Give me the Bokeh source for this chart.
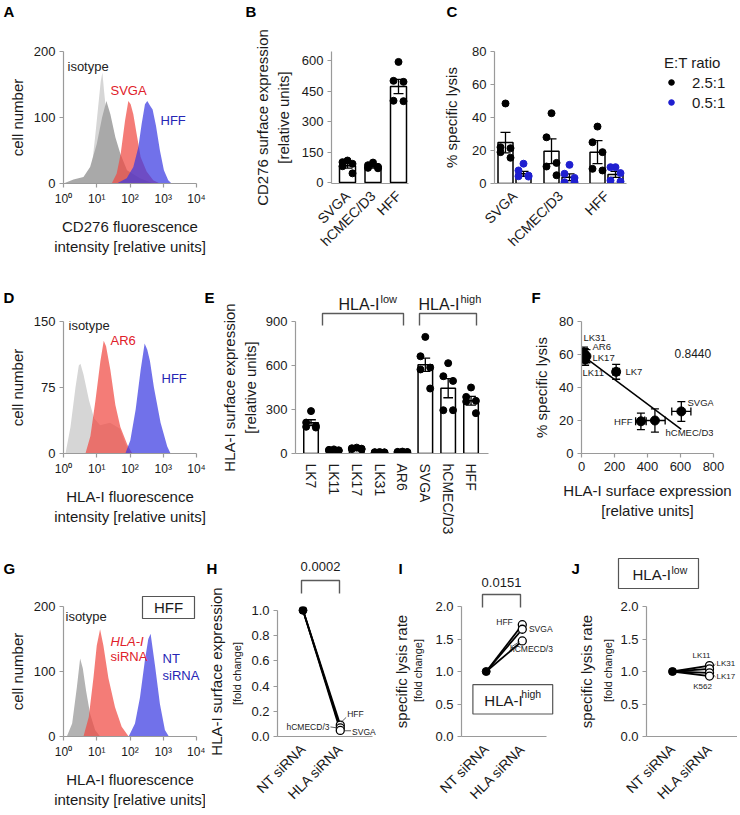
import numpy as np
from bokeh.plotting import figure
from bokeh.layouts import row, column
from bokeh.models import (Range1d, FixedTicker, Label, GridBox,
                          PrintfTickFormatter, Legend, LegendItem)
from bokeh.core.properties import value
from bokeh.embed import file_html
from bokeh.resources import INLINE

FONT = "Liberation Sans"
INK = "#1a1a1a"
AXIS = "#9a9a9a"
GREY_LIGHT = "#d6d6d6"
GREY_DARK = "#a9a9a9"
RED = "#f04a42"
BLUE = "#3a3ae2"
RED_TXT = "#e0202a"
BLUE_TXT = "#2626b5"
DOT_BLUE = "#1f1fd0"
BRACKET = "#5a5a5a"

# ---------------- data ----------------
LOG_TICKS = [0, 1, 2, 3, 4]
LOG_LABELS = ["10\u2070", "10\u00b9", "10\u00b2", "10\u00b3", "10\u2074"]

# A: CD276 flow histograms (log10 intensity, cell number)
A_iso1_log = [0.72, 0.85, 0.95, 1.05, 1.12, 1.17, 1.22, 1.30, 1.42, 1.55, 1.70]
A_iso1_cnt = [0, 25, 70, 120, 155, 168, 140, 100, 55, 20, 0]
A_iso2_log = [0.0, 0.3, 0.6, 0.8, 1.0, 1.16, 1.29, 1.41, 1.56, 1.71, 1.91, 2.3, 2.7]
A_iso2_cnt = [0, 6, 10, 25, 60, 100, 125, 105, 70, 45, 20, 8, 0]
A_svga_log = [1.45, 1.6, 1.72, 1.85, 1.95, 2.02, 2.1, 2.2, 2.32, 2.5, 2.7, 2.9]
A_svga_cnt = [0, 15, 45, 95, 125, 120, 105, 75, 40, 18, 5, 0]
A_hff_log = [1.6, 1.9, 2.1, 2.25, 2.35, 2.45, 2.52, 2.6, 2.68, 2.78, 2.9, 3.02, 3.15, 3.25]
A_hff_cnt = [0, 8, 25, 55, 90, 120, 125, 118, 112, 88, 50, 20, 5, 0]

# B: CD276 surface expression
B_cats = ["SVGA", "hCMEC/D3", "HFF"]
B_mean = [82, 77, 472]
B_sem = [11, 6, 35]
B_pts = [[108, 100, 92, 80, 45], [98, 85, 77, 72, 70], [593, 500, 495, 402, 400]]

# C: % specific lysis at two E:T ratios
C_cats = ["SVGA", "hCMEC/D3", "HFF"]
C_hi_mean = [24.8, 19.6, 19.0]
C_hi_sem = [6.2, 7.5, 7.0]
C_hi_pts = [[48.5, 22, 21.4, 19, 15.6], [42.6, 28, 12.5, 10.3, 5], [34.5, 25, 19, 8.9, 7.9]]
C_lo_mean = [5.9, 3.8, 5.5]
C_lo_sem = [1.5, 2.0, 1.8]
C_lo_pts = [[12, 7.9, 4.8, 4.4, 4.2], [11.3, 5.9, 3.4, 0.8, 0.8], [9.9, 9.9, 6.3, 1.8, 1.2]]

# D: HLA-I flow histograms
D_iso_log = [0.06, 0.21, 0.36, 0.46, 0.51, 0.6, 0.77, 0.92, 1.1, 1.4, 1.7, 1.85, 2.0]
D_iso_cnt = [0, 30, 75, 100, 102, 90, 60, 40, 32, 35, 28, 12, 0]
D_ar6_log = [0.66, 0.81, 0.96, 1.11, 1.21, 1.28, 1.41, 1.56, 1.71, 1.92, 2.07]
D_ar6_cnt = [0, 20, 60, 105, 128, 122, 95, 55, 30, 10, 0]
D_hff_log = [1.86, 2.01, 2.17, 2.32, 2.44, 2.52, 2.6, 2.72, 2.92, 3.12, 3.22]
D_hff_cnt = [0, 15, 50, 95, 125, 118, 105, 75, 35, 8, 0]

# E: HLA-I surface expression
E_cats = ["LK7", "LK11", "LK17", "LK31", "AR6", "SVGA", "hCMEC/D3", "HFF"]
E_mean = [210, 22, 33, 8, 10, 605, 445, 360]
E_sem = [20, 2, 2, 1, 1, 45, 65, 30]
E_pts = [[289, 211, 189, 182, 177], [28, 25, 22, 20, 18], [40, 36, 33, 30, 28],
         [10, 9, 8, 7, 6], [13, 11, 10, 9, 8], [795, 663, 586, 573, 443],
         [616, 527, 495, 295, 295], [450, 386, 359, 354, 275]]

# F: lysis vs HLA-I expression
F_lines = ["LK31", "AR6", "LK17", "LK11", "LK7", "SVGA", "hCMEC/D3", "HFF"]
F_x = [15, 20, 30, 22, 210, 605, 445, 360]
F_y = [60.5, 60, 59, 57, 49.5, 25.5, 20, 19.5]
F_xerr = [2, 2, 3, 2, 20, 58, 62, 32]
F_yerr = [4, 3.5, 4, 3.5, 4.5, 6, 7, 5]
F_r2_text = "0.8440"

# G: HFF HLA-I knockdown histograms
G_iso_log = [0.1, 0.26, 0.4, 0.5, 0.58, 0.68, 0.8, 0.95, 1.1]
G_iso_cnt = [0, 20, 75, 120, 105, 70, 35, 10, 0]
G_hla_log = [0.6, 0.76, 0.9, 1.0, 1.1, 1.2, 1.35, 1.55, 1.75, 1.96]
G_hla_cnt = [0, 30, 90, 140, 165, 140, 90, 45, 15, 0]
G_nt_log = [1.96, 2.15, 2.3, 2.45, 2.55, 2.62, 2.75, 2.9, 3.05, 3.17]
G_nt_cnt = [0, 20, 60, 118, 150, 158, 110, 50, 10, 0]

# H, I, J: NT siRNA vs HLA siRNA (fold change)
SI_cats = ["NT siRNA", "HLA siRNA"]
H_lines = ["HFF", "hCMECD/3", "SVGA"]
H_hla = [0.09, 0.068, 0.048]
H_p = "0.0002"
I_lines = ["HFF", "SVGA", "hCMECD/3"]
I_hla = [1.72, 1.65, 1.47]
I_p = "0.0151"
J_lines = ["LK11", "LK31", "LK17", "K562"]
J_hla = [1.09, 1.04, 0.98, 0.93]

PANEL_LETTERS = ["A", "B", "C", "D", "E", "F", "G", "H", "I", "J"]

JIT_PX = [0, -5, 5, -5, 5]
PAGE_W, PAGE_H = 737, 810


# ---------------- helpers ----------------
class Panel:
    pass


def lin(pa, va, pb, vb):
    k = (vb - va) / (pb - pa)
    return (lambda px: va + (px - pa) * k), abs(k)


def make_panel(canvas, frame, xcal, ycal):
    cx0, cy0, cx1, cy1 = canvas
    fx0, fy0, fx1, fy1 = frame
    P = Panel()
    P.X, P.sx = lin(*xcal)
    P.Y, P.sy = lin(*ycal)
    p = figure(width=cx1 - cx0, height=cy1 - cy0,
               x_range=Range1d(P.X(fx0), P.X(fx1)),
               y_range=Range1d(P.Y(fy1), P.Y(fy0)),
               min_border_left=fx0 - cx0, min_border_right=cx1 - fx1,
               min_border_top=fy0 - cy0, min_border_bottom=cy1 - fy1,
               output_backend="svg", toolbar_location=None, tools="")
    p.outline_line_color = None
    p.xgrid.visible = False
    p.ygrid.visible = False
    p.background_fill_color = "white"
    p.border_fill_color = "white"
    for ax in (p.xaxis[0], p.yaxis[0]):
        ax.axis_line_color = AXIS
        ax.axis_line_width = 1.2
        ax.major_tick_line_color = AXIS
        ax.major_tick_line_width = 1.2
        ax.major_tick_out = 4
        ax.major_tick_in = 0
        ax.minor_tick_line_color = None
        ax.major_label_text_font = FONT
        ax.major_label_text_font_size = "13px"
        ax.major_label_text_color = INK
        ax.major_label_standoff = 4
        ax.axis_label_text_font = FONT
        ax.axis_label_text_font_size = "15px"
        ax.axis_label_text_font_style = "normal"
        ax.axis_label_text_color = INK
    P.p = p
    return P


def txt(P, px, py, text, size="13px", color=INK, align="left", baseline="middle",
        style="normal", angle=0.0):
    P.p.add_layout(Label(x=P.X(px), y=P.Y(py), text=text, text_font=FONT,
                         text_font_size=size, text_color=color, text_align=align,
                         text_baseline=baseline, text_font_style=style, angle=angle))


def cat_xaxis(P, labels, orientation, size="14px"):
    ax = P.p.xaxis[0]
    ax.ticker = FixedTicker(ticks=list(range(len(labels))))
    ax.major_label_overrides = {i: s for i, s in enumerate(labels)}
    ax.major_label_orientation = orientation
    ax.major_tick_line_color = None
    ax.major_label_text_font_size = size
    ax.major_label_standoff = 6


def log_xaxis(P):
    ax = P.p.xaxis[0]
    ax.ticker = FixedTicker(ticks=LOG_TICKS)
    ax.major_label_overrides = dict(zip(LOG_TICKS, LOG_LABELS))
    ax.major_label_text_font_size = "12px"


def err_v(P, xs, ms, es, cap_px=5, lw=1.3, color="black"):
    xs = np.asarray(xs, float); ms = np.asarray(ms, float); es = np.asarray(es, float)
    c = cap_px * P.sx
    P.p.segment(x0=xs, y0=ms - es, x1=xs, y1=ms + es, line_color=color, line_width=lw)
    for yy in (ms - es, ms + es):
        P.p.segment(x0=xs - c, y0=yy, x1=xs + c, y1=yy, line_color=color, line_width=lw)


def err_h(P, xs, ms, es, cap_px=4, lw=1.3, color="black"):
    xs = np.asarray(xs, float); ms = np.asarray(ms, float); es = np.asarray(es, float)
    c = cap_px * P.sy
    P.p.segment(x0=xs - es, y0=ms, x1=xs + es, y1=ms, line_color=color, line_width=lw)
    for xx in (xs - es, xs + es):
        P.p.segment(x0=xx, y0=ms - c, x1=xx, y1=ms + c, line_color=color, line_width=lw)


def jitter_dots(P, centers, pts_groups, color, size=7):
    xs, ys = [], []
    for c, pts in zip(centers, pts_groups):
        for j, v in enumerate(sorted(pts, reverse=True)):
            xs.append(c + JIT_PX[j % len(JIT_PX)] * P.sx)
            ys.append(v)
    return P.p.scatter(x=xs, y=ys, size=size, fill_color=color, line_color=color)


def hist(P, xs, ys, color, alpha=1.0):
    P.p.varea(x=xs, y1=0, y2=ys, fill_color=color, fill_alpha=alpha)


# ---- page overlay (pixel coordinates) for annotations that sit outside the plot frames ----
OV = figure(width=PAGE_W, height=PAGE_H, x_range=Range1d(0, PAGE_W), y_range=Range1d(PAGE_H, 0),
            x_axis_type=None, y_axis_type=None, min_border=0,
            output_backend="svg", toolbar_location=None, tools="")
OV.outline_line_color = None
OV.xgrid.visible = False
OV.ygrid.visible = False
OV.background_fill_alpha = 0
OV.border_fill_alpha = 0


def ov_text(px, py, text, size="13px", color=INK, align="left", style="normal", angle=0.0):
    OV.text(x=[px], y=[py], text=[text], text_font=value(FONT), text_font_size=value(size),
            text_color=color, text_align=align, text_baseline="middle",
            text_font_style=style, angle=angle)


def ov_bracket(x0, x1, ytop, yleg):
    OV.line(x=[x0, x0, x1, x1], y=[yleg, ytop, ytop, yleg], line_color=BRACKET, line_width=1.4)


def ov_box(x0, x1, y0, y1):
    OV.quad(left=[x0], right=[x1], top=[y0], bottom=[y1], fill_color="white",
            line_color="#555555", line_width=1.2)


letter_pos = [(3, 11), (245, 11), (446, 11), (3, 297), (204, 297), (531, 297),
              (3, 568), (206, 568), (398, 568), (571, 568)]
for L, (lx, ly) in zip(PANEL_LETTERS, letter_pos):
    ov_text(lx, ly, L, size="15px", color="black", style="bold")

# ================= Row 1 =================
A = make_panel((0, 0, 236, 270), (63, 51, 196, 183), (63, 0, 196, 4), (183, 0, 51, 200))
hist(A, A_iso1_log, A_iso1_cnt, GREY_LIGHT)
hist(A, A_iso2_log, A_iso2_cnt, GREY_DARK)
hist(A, A_svga_log, A_svga_cnt, RED, 0.72)
hist(A, A_hff_log, A_hff_cnt, BLUE, 0.72)
log_xaxis(A)
A.p.yaxis[0].ticker = FixedTicker(ticks=[0, 100, 200])
A.p.yaxis[0].axis_label = "cell number"
A.p.yaxis[0].axis_label_standoff = 5
A.p.xaxis[0].axis_label = "CD276 fluorescence\nintensity [relative units]"
A.p.xaxis[0].axis_label_standoff = 9
txt(A, 67, 66, "isotype", color="#222222")
txt(A, 110, 90, "SVGA", color=RED_TXT)
txt(A, 160, 120, "HFF", color=BLUE_TXT)

B = make_panel((236, 0, 440, 270), (331, 51, 408, 183), (347, 0, 398, 2), (182, 0, 60, 600))
bx = list(range(len(B_cats)))
B.p.vbar(x=bx, top=B_mean, width=16 * B.sx, fill_color="white", line_color="black", line_width=1.5)
err_v(B, bx, B_mean, B_sem)
jitter_dots(B, bx, B_pts, "black")
cat_xaxis(B, B_cats, np.pi / 4)
B.p.yaxis[0].ticker = FixedTicker(ticks=[0, 150, 300, 450, 600])
B.p.yaxis[0].axis_label = "CD276 surface expression\n[relative units]"
B.p.yaxis[0].axis_label_standoff = 7

C = make_panel((440, 0, 732, 270), (494, 51, 732, 183), (514, 0, 606, 2), (183, 0, 51, 80))
cx = np.arange(len(C_cats), dtype=float)
off = 9 * C.sx
C.p.vbar(x=cx - off, top=C_hi_mean, width=15 * C.sx, fill_color="white", line_color="black", line_width=1.5)
C.p.vbar(x=cx + off, top=C_lo_mean, width=15 * C.sx, fill_color="white", line_color="black", line_width=1.5)
err_v(C, cx - off, C_hi_mean, C_hi_sem)
err_v(C, cx + off, C_lo_mean, C_lo_sem)
r_hi = jitter_dots(C, cx - off, C_hi_pts, "black")
r_lo = jitter_dots(C, cx + off, C_lo_pts, DOT_BLUE)
cat_xaxis(C, C_cats, np.pi / 4)
C.p.xaxis[0].bounds = (C.X(494), C.X(626))
C.p.yaxis[0].ticker = FixedTicker(ticks=[0, 20, 40, 60, 80])
C.p.yaxis[0].axis_label = "% specific lysis"
C.p.yaxis[0].axis_label_standoff = 9
leg = Legend(items=[LegendItem(label="2.5:1", renderers=[r_hi]),
                    LegendItem(label="0.5:1", renderers=[r_lo])],
             title="E:T ratio", location=(170, 72))
leg.title_text_font = FONT
leg.title_text_font_size = "15px"
leg.title_text_font_style = "normal"
leg.title_text_color = INK
leg.title_standoff = 2
leg.label_text_font = FONT
leg.label_text_font_size = "15px"
leg.label_text_color = INK
leg.border_line_color = None
leg.background_fill_alpha = 0
leg.padding = 0
leg.margin = 0
leg.spacing = 2
leg.glyph_width = 14
leg.glyph_height = 18
leg.label_height = 18
leg.label_standoff = 14
C.p.add_layout(leg)

# ================= Row 2 =================
D = make_panel((0, 270, 218, 540), (63, 321, 196, 453), (63, 0, 196, 4), (453, 0, 321, 150))
hist(D, D_iso_log, D_iso_cnt, GREY_LIGHT)
hist(D, D_ar6_log, D_ar6_cnt, RED, 0.72)
hist(D, D_hff_log, D_hff_cnt, BLUE, 0.72)
log_xaxis(D)
D.p.yaxis[0].ticker = FixedTicker(ticks=[0, 75, 150])
D.p.yaxis[0].axis_label = "cell number"
D.p.yaxis[0].axis_label_standoff = 5
D.p.xaxis[0].axis_label = "HLA-I fluorescence\nintensity [relative units]"
D.p.xaxis[0].axis_label_standoff = 9
txt(D, 68, 325, "isotype", color="#222222")
txt(D, 110, 340, "AR6", color=RED_TXT)
txt(D, 161, 378, "HFF", color=BLUE_TXT)

E = make_panel((218, 270, 500, 540), (289, 321, 488, 453), (305, 0, 470, 7), (453, 0, 321, 900))
ex = list(range(len(E_cats)))
E.p.vbar(x=ex, top=E_mean, width=15 * E.sx, fill_color="white", line_color="black", line_width=1.5)
err_v(E, ex, E_mean, E_sem)
jitter_dots(E, ex, E_pts, "black")
cat_xaxis(E, E_cats, "vertical")
E.p.yaxis[0].ticker = FixedTicker(ticks=[0, 300, 600, 900])
E.p.yaxis[0].axis_label = "HLA-I surface expression\n[relative units]"
E.p.yaxis[0].axis_label_standoff = 4
ov_bracket(322, 403, 313, 325)
ov_bracket(419, 476, 313, 325)
ov_text(338, 304, "HLA-I", size="16px")
ov_text(380, 298, "low", size="11px")
ov_text(418, 304, "HLA-I", size="16px")
ov_text(460, 298, "high", size="11px")

F = make_panel((500, 270, 732, 540), (581, 321, 713, 453), (581, 0, 713, 800), (453, 0, 321, 80))
fx = np.array(F_x, float)
fy = np.array(F_y, float)
slope, icpt = np.polyfit(fx, fy, 1)
xl = np.array([fx.min(), fx.max()])
F.p.line(x=xl, y=icpt + slope * xl, line_color="black", line_width=1.5)
err_v(F, fx, fy, F_yerr, cap_px=4)
err_h(F, fx, fy, F_xerr, cap_px=4)
F.p.scatter(x=fx, y=fy, size=9, color="black")
F.p.xaxis[0].ticker = FixedTicker(ticks=[0, 200, 400, 600, 800])
F.p.yaxis[0].ticker = FixedTicker(ticks=[0, 20, 40, 60, 80])
F.p.yaxis[0].axis_label = "% specific lysis"
F.p.yaxis[0].axis_label_standoff = 6
F.p.xaxis[0].axis_label = "HLA-I surface expression\n[relative units]"
F.p.xaxis[0].axis_label_standoff = 8
f_lab = {"LK31": (583, 337, "left"), "AR6": (592, 346, "left"), "LK17": (592, 357, "left"),
         "LK11": (582, 372, "left"), "LK7": (625, 371, "left"), "SVGA": (687, 402, "left"),
         "HFF": (632, 421, "right"), "hCMEC/D3": (665, 432, "left")}
for name in F_lines:
    px, py, al = f_lab[name]
    txt(F, px, py, name, size="9.5px", align=al)
txt(F, 674, 353, F_r2_text, size="12px")

# ================= Row 3 =================
G = make_panel((0, 540, 205, 810), (63, 606, 196, 739), (63, 0, 196, 4), (739, 0, 606, 200))
hist(G, G_iso_log, G_iso_cnt, "#b3b3b3")
hist(G, G_hla_log, G_hla_cnt, RED, 0.72)
hist(G, G_nt_log, G_nt_cnt, BLUE, 0.72)
log_xaxis(G)
G.p.yaxis[0].ticker = FixedTicker(ticks=[0, 100, 200])
G.p.yaxis[0].axis_label = "cell number"
G.p.yaxis[0].axis_label_standoff = 5
G.p.xaxis[0].axis_label = "HLA-I fluorescence\nintensity [relative units]"
G.p.xaxis[0].axis_label_standoff = 9
ov_box(142, 194, 596, 618)
ov_text(168, 607, "HFF", size="15px", align="center")
txt(G, 65, 616, "isotype", color="#222222")
txt(G, 110, 642, "HLA-I", color=RED_TXT, style="italic")
txt(G, 110, 657, "siRNA", color=RED_TXT)
ov_text(162, 658, "NT", color=BLUE_TXT)
ov_text(162, 675, "siRNA", color=BLUE_TXT)


def paired(P, hla_vals):
    for v in hla_vals:
        P.p.line(x=[0, 1], y=[1.0, v], line_color="black", line_width=1.8)
    P.p.scatter(x=[0], y=[1.0], size=8, color="black")
    P.p.scatter(x=[1] * len(hla_vals), y=hla_vals, size=8, fill_color="white",
                line_color="black", line_width=1.3)
    cat_xaxis(P, SI_cats, np.pi / 4)


def fold_axis(P, label, ticks, standoff, sub_px, sub_py):
    ax = P.p.yaxis[0]
    ax.ticker = FixedTicker(ticks=ticks)
    ax.formatter = PrintfTickFormatter(format="%.1f")
    ax.axis_label = label
    ax.axis_label_standoff = standoff
    ov_text(sub_px, sub_py, "[fold change]", size="11px", align="center", angle=np.pi / 2)


H = make_panel((205, 540, 390, 810), (275, 603, 380, 739), (301, 0, 339, 1), (739, 0, 607, 1))
paired(H, H_hla)
H.p.xaxis[0].bounds = (H.X(275), H.X(372))
H.p.yaxis[0].bounds = (0, 1)
fold_axis(H, "HLA-I surface expression", [0, 0.2, 0.4, 0.6, 0.8, 1.0], 23, 236, 673)
ov_bracket(301, 339, 580, 593)
ov_text(320, 566, H_p, align="center")
h_lab = {"HFF": (346, 715, "left"), "hCMECD/3": (328, 729, "right"), "SVGA": (351, 734, "left")}
for name in H_lines:
    px, py, al = h_lab[name]
    txt(H, px, py, name, size="8.5px", align=al)
H.p.segment(x0=[H.X(340), H.X(329), H.X(343)], y0=[H.Y(724), H.Y(729), H.Y(733)],
            x1=[H.X(345), H.X(336), H.X(350)], y1=[H.Y(719), H.Y(730), H.Y(733)],
            line_color="#333333", line_width=0.8)

I = make_panel((390, 540, 570, 810), (456, 604, 556, 737), (482, 0, 520, 1), (737, 0, 604, 2))
paired(I, I_hla)
I.p.xaxis[0].bounds = (I.X(456), I.X(545))
fold_axis(I, "specific lysis rate", [0, 0.5, 1.0, 1.5, 2.0], 22, 417, 670)
ov_bracket(482, 520, 594, 607)
ov_text(501, 582, I_p, align="center")
i_lab = {"HFF": (510, 620, "right"), "SVGA": (527, 627, "left"), "hCMECD/3": (507, 647, "left")}
for name in I_lines:
    px, py, al = i_lab[name]
    txt(I, px, py, name, size="8.5px", align=al)
I.p.segment(x0=[I.X(509)], y0=[I.Y(645)], x1=[I.X(517)], y1=[I.Y(640)],
            line_color="#333333", line_width=0.8)
I.p.quad(left=I.X(468), right=I.X(552), bottom=I.Y(714), top=I.Y(684),
         fill_color="white", line_color="#555555", line_width=1.2)
txt(I, 480, 700, "HLA-I", size="15px")
txt(I, 519, 694, "high", size="10.5px")

J = make_panel((570, 540, 737, 810), (646, 604, 737, 737), (672, 0, 709, 1), (737, 0, 604, 2))
paired(J, J_hla)
fold_axis(J, "specific lysis rate", [0, 0.5, 1.0, 1.5, 2.0], 22, 607, 670)
j_lab = {"LK11": (701, 654, "center"), "LK31": (716, 662, "left"),
         "LK17": (716, 676, "left"), "K562": (702, 686, "center")}
for name in J_lines:
    px, py, al = j_lab[name]
    txt(J, px, py, name, size="8px", align=al)
J.p.segment(x0=[J.X(712), J.X(712)], y0=[J.Y(666), J.Y(673)],
            x1=[J.X(715), J.X(715)], y1=[J.Y(663), J.Y(676)],
            line_color="#333333", line_width=0.8)
ov_box(618, 698, 558, 588)
ov_text(632, 574, "HLA-I", size="15px")
ov_text(671, 569, "low", size="10.5px")

main = column(row(A.p, B.p, C.p), row(D.p, E.p, F.p), row(G.p, H.p, I.p, J.p))
page = GridBox(children=[(main, 0, 0), (OV, 0, 0)])

html = file_html(page, INLINE, title="CD276 / HLA-I panels")
with open("out.html", "w") as fh:
    fh.write(html)
